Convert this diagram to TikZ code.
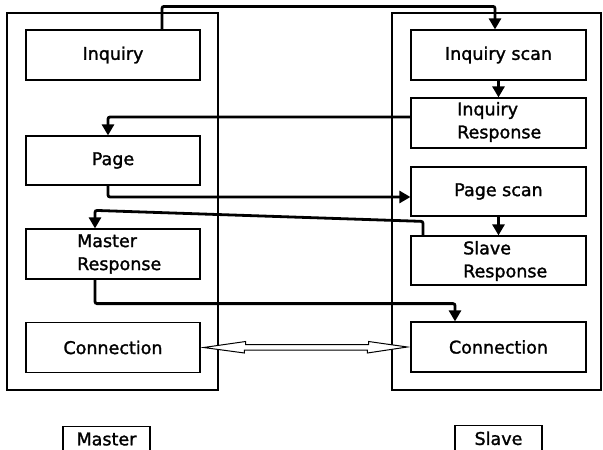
\documentclass[tikz,border=0pt]{standalone}
\usepackage{fontspec}
\setmainfont[FakeBold=1.5,AutoFakeBold=1.5]{DejaVu Sans}
\usetikzlibrary{arrows.meta,calc}
\begin{document}
\begin{tikzpicture}[x=1pt,y=-1pt,
  lbl/.style={font=\fontsize{17.5}{23}\selectfont\bfseries},
  box/.style={draw,line width=1.2pt,minimum width=174pt,minimum height=50pt,inner sep=0pt,lbl},
  outer/.style={draw,line width=1.4pt,inner sep=0pt},
  txt/.style={lbl,align=left,inner sep=0pt,anchor=west},
  tag/.style={draw,lbl,line width=1.2pt,minimum width=87pt,inner xsep=0pt,inner ysep=6pt,anchor=north},
  flow/.style={line width=2.8pt,rounded corners=2pt,-{Triangle[length=11pt,width=12pt]}},
  hollow/.style={draw,line width=1pt,fill=white,line join=miter}
]
\useasboundingbox (0,0) rectangle (603,450);
\clip (0,0) rectangle (603,450);
% outer frames
\node[outer,minimum width=211pt,minimum height=377pt] (mframe) at (112.5,201.5) {};
\node[outer,minimum width=209pt,minimum height=377pt] (sframe) at (496.5,201.5) {};
% master boxes
\node[box] (mi) at (113,55) {Inquiry};
\node[box,minimum height=49pt] (mp) at (113,160.5) {Page};
\node[box] (mr) at (113,254) {};
\node[txt] (mrt) at (77,254) {Master\\Response};
\node[box] (mc) at (113,347.5) {Connection};
% slave boxes
\node[box,minimum width=175pt] (si) at (498.5,55) {Inquiry scan};
\node[box,minimum width=175pt] (sir) at (498.5,123) {};
\node[txt] (sirt) at (457,122) {Inquiry\\Response};
\node[box,minimum width=175pt,minimum height=49pt] (sps) at (498.5,191.5) {Page scan};
\node[box,minimum width=175pt,minimum height=49pt] (ssr) at (498.5,260.5) {};
\node[txt] (ssrt) at (463,261) {Slave\\Response};
\node[box,minimum width=175pt,minimum height=50pt] (sc) at (498.5,347) {Connection};
% labels
\node[tag] (mlab) at (106.5,426) {Master};
\node[tag] (slab) at (498.5,425) {Slave};
% flows
\draw[flow] ([xshift=49pt]mi.north) -- ++(0,-23) -| ([xshift=-3.5pt]si.north);
\draw[flow] (si.south) -- (sir.north);
\draw[flow] ([yshift=6pt]sir.west) -| ([xshift=-5pt]mp.north);
\draw[flow] ([xshift=-5pt]mp.south) |- ([yshift=-5.5pt]sps.west);
\draw[flow] (sps.south) -- (ssr.north);
\draw[flow] ([xshift=-75.5pt]ssr.north) -- ++(0,-14) -- ($(mr.north)+(-18,-18)$) -- ([xshift=-18pt]mr.north);
\draw[flow] ([xshift=-18pt]mr.south) -- ++(0,24) -| ([xshift=-43.5pt]sc.north);
% hollow double arrow
\draw[hollow] ([xshift=3pt]mc.east) -- ++(42,-6) -- ++(0,3) -- ++(123,0) -- ++(0,-3) -- ([xshift=-3pt]sc.west)
  -- ++(-40,6) -- ++(0,-3) -- ++(-123,0) -- ++(0,3) -- cycle;
\end{tikzpicture}
\end{document}
